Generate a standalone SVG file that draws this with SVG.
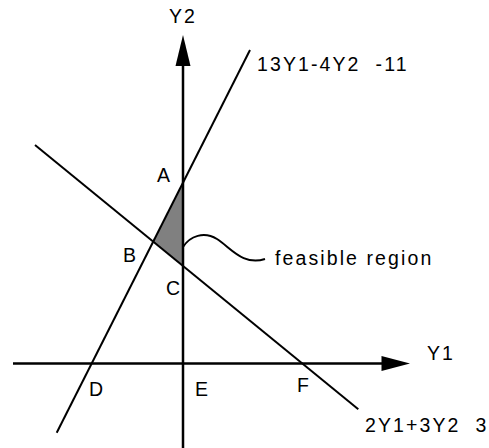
<svg xmlns="http://www.w3.org/2000/svg" width="489" height="448" viewBox="0 0 489 448">
<style>
.ln{stroke:#000;stroke-width:2;fill:none}
.ax{stroke:#000;stroke-width:2.5;fill:none}
.t{font-family:"Liberation Sans",Arial,sans-serif;font-size:19.5px;fill:#000;letter-spacing:2.1px}
</style>
<rect width="489" height="448" fill="#fff"/>
<g id="feasible-area">
<polygon points="183,182.7 153.2,241.6 183,266" fill="#808080" stroke="none"/>
</g>
<g id="connectors">
<line class="ln" x1="250" y1="50" x2="56.7" y2="432.7"/>
<line class="ln" x1="35" y1="145" x2="358.3" y2="409.3"/>
<line class="ax" x1="183" y1="64" x2="183" y2="448"/>
<polygon points="183,35 175.5,66 190.5,66" fill="#000"/>
<line class="ax" x1="13" y1="363.5" x2="383" y2="363.5"/>
<polygon points="410,363.5 381.5,356 381.5,371" fill="#000"/>
<path class="ln" d="M183,247 C190,236 204,231 217,239 C231,248 243,266 265,259"/>
</g>
<g id="label-Y2"><text class="t" x="169" y="23">Y2</text></g>
<g id="label-line1"><text class="t" x="257" y="71" xml:space="preserve">13Y1-4Y2  -11</text></g>
<g id="label-A"><text class="t" x="157" y="181.5">A</text></g>
<g id="label-B"><text class="t" x="123" y="261.5">B</text></g>
<g id="label-C"><text class="t" x="166" y="295">C</text></g>
<g id="label-feasible"><text class="t" x="275" y="265">feasible region</text></g>
<g id="label-D"><text class="t" x="89" y="395.5">D</text></g>
<g id="label-E"><text class="t" x="195" y="395.5">E</text></g>
<g id="label-F"><text class="t" x="297" y="392">F</text></g>
<g id="label-Y1"><text class="t" x="427" y="360">Y1</text></g>
<g id="label-line2"><text class="t" x="365" y="431.5" xml:space="preserve">2Y1+3Y2  3</text></g>
</svg>
